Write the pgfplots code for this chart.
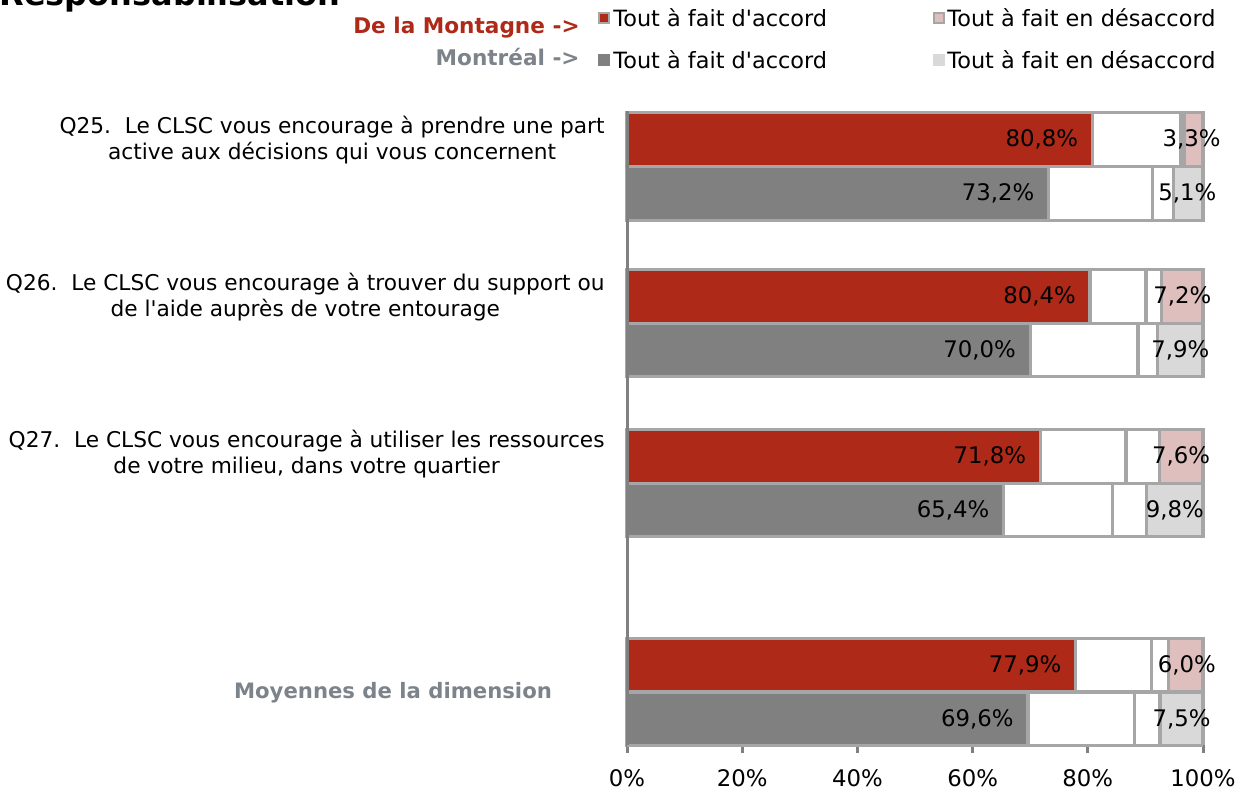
\documentclass[border=0pt]{standalone}
\usepackage{fontspec}
\setmainfont{DejaVu Sans}[Ligatures=TeXOff]
\usepackage{pgfplots}
\pgfplotsset{compat=1.18}
\definecolor{cred}{RGB}{174,41,24}
\definecolor{cdgray}{RGB}{128,128,128}
\definecolor{cpink}{RGB}{223,190,190}
\definecolor{clgray}{RGB}{217,217,217}
\definecolor{cborder}{RGB}{166,166,166}
\definecolor{ctgray}{RGB}{125,131,138}
\newcommand{\lblfont}{\fontsize{11.4pt}{13.5pt}\selectfont}
\newcommand{\legfont}{\fontsize{11.2pt}{13.5pt}\selectfont}
\newcommand{\catfont}{\fontsize{10.85pt}{12.6pt}\selectfont}
\pgfplotsset{
  mybase/.style={
    at={(313.5pt,-372.5pt)}, anchor=south west, scale only axis,
    width=288pt, height=317pt,
    xmin=0, xmax=100, ymin=-745, ymax=-111, clip=false,
  },
  mybars/.style={mybase, hide axis, xbar stacked, bar width=53.5,
    every axis plot/.append style={draw=cborder, line width=1.7pt}},
}
\begin{document}
\begin{tikzpicture}
\path[use as bounding box] (0,0) rectangle (622pt,-397pt);
\clip (0,0) rectangle (622pt,-397pt);
% De la Montagne
\begin{axis}[mybars]
\addplot[fill=cred]  coordinates {(80.8,-139.5) (80.4,-296.5) (71.8,-456.5) (77.9,-665)};
\addplot[fill=white] coordinates {(15.4,-139.5) (9.7,-296.5) (14.8,-456.5) (13.2,-665)};
\addplot[fill=white] coordinates {(0.5,-139.5) (2.7,-296.5) (5.8,-456.5) (2.9,-665)};
\addplot[fill=cpink] coordinates {(3.3,-139.5) (7.2,-296.5) (7.6,-456.5) (6.0,-665)};
\end{axis}
% Montreal
\begin{axis}[mybars]
\addplot[fill=cdgray] coordinates {(73.2,-193.5) (70.0,-350) (65.4,-510) (69.6,-719)};
\addplot[fill=white]  coordinates {(18.0,-193.5) (18.7,-350) (18.9,-510) (18.5,-719)};
\addplot[fill=white]  coordinates {(3.7,-193.5) (3.4,-350) (5.9,-510) (4.4,-719)};
\addplot[fill=clgray] coordinates {(5.1,-193.5) (7.9,-350) (9.8,-510) (7.5,-719)};
\end{axis}
% axis lines and labels
\begin{axis}[mybase, axis on top,
  axis x line=bottom, axis y line=left,
  x axis line style={-, draw=cborder, line width=1.5pt},
  y axis line style={-, draw=cdgray, line width=1.5pt},
  ytick=\empty, xtick={0,20,40,60,80,100},
  xticklabels={0\%,20\%,40\%,60\%,80\%,100\%},
  tick align=outside, major tick length=4pt,
  xtick style={draw=cdgray, line width=1.5pt},
  xticklabel style={font=\lblfont, text=black, yshift=-5pt},
  nodes near coords, point meta=explicit symbolic,
]
\addplot[draw=none, mark=none, every node near coord/.append style={anchor=east, xshift=-7pt, font=\lblfont, inner sep=0pt, text=black}]
  coordinates {(80.8,-139.5) [80,8\%] (80.4,-296.5) [80,4\%] (71.8,-456.5) [71,8\%] (77.9,-665) [77,9\%]
               (73.2,-193.5) [73,2\%] (70.0,-350) [70,0\%] (65.4,-510) [65,4\%] (69.6,-719) [69,6\%]};
\addplot[draw=none, mark=none, every node near coord/.append style={anchor=center, font=\lblfont, inner sep=0pt, text=black}]
  coordinates {(98.0,-139.5) [3,3\%] (96.4,-296.5) [7,2\%] (96.2,-456.5) [7,6\%] (97.2,-665) [6,0\%]
               (97.3,-193.5) [5,1\%] (96.05,-350) [7,9\%] (95.1,-510) [9,8\%] (96.3,-719) [7,5\%]};
\end{axis}
\begin{scope}[x=0.5pt,y=-0.5pt]
\node[anchor=base west, inner sep=0pt, font=\bfseries\fontsize{16pt}{18pt}\selectfont] at (-1,5) {Responsabilisation};
% legend
\node[anchor=east, inner sep=0pt, font=\bfseries\fontsize{10.8pt}{12pt}\selectfont, text=cred] at (580,28) {De la Montagne ->};
\node[anchor=east, inner sep=0pt, font=\bfseries\fontsize{10.8pt}{12pt}\selectfont, text=ctgray] at (580,57) {Montréal ->};
\filldraw[fill=cred, draw=cborder, line width=1pt] (599,13) rectangle (609,23);
\filldraw[fill=cpink, draw=cborder, line width=1pt] (934,13) rectangle (944,23);
\fill[cdgray] (598,54) rectangle (610,66);
\fill[clgray] (933,54) rectangle (945,66);
\node[anchor=west, inner sep=0pt, font=\legfont] at (613,18) {Tout à fait d'accord};
\node[anchor=west, inner sep=0pt, font=\legfont] at (947,18) {Tout à fait en désaccord};
\node[anchor=west, inner sep=0pt, font=\legfont] at (613,60) {Tout à fait d'accord};
\node[anchor=west, inner sep=0pt, font=\legfont] at (947,60) {Tout à fait en désaccord};
% categories
\node[anchor=east, align=center, inner sep=0pt, font=\catfont] at (605,140) {Q25.\ \ Le CLSC vous encourage à prendre une part\\active aux décisions qui vous concernent};
\node[anchor=east, align=center, inner sep=0pt, font=\catfont] at (605,297) {Q26.\ \ Le CLSC vous encourage à trouver du support ou\\de l'aide auprès de votre entourage};
\node[anchor=east, align=center, inner sep=0pt, font=\catfont] at (605,454) {Q27.\ \ Le CLSC vous encourage à utiliser les ressources\\de votre milieu, dans votre quartier};
\node[anchor=center, inner sep=0pt, font=\bfseries\fontsize{10.6pt}{12pt}\selectfont, text=ctgray] at (393,693) {Moyennes de la dimension};
\end{scope}
\end{tikzpicture}
\end{document}
